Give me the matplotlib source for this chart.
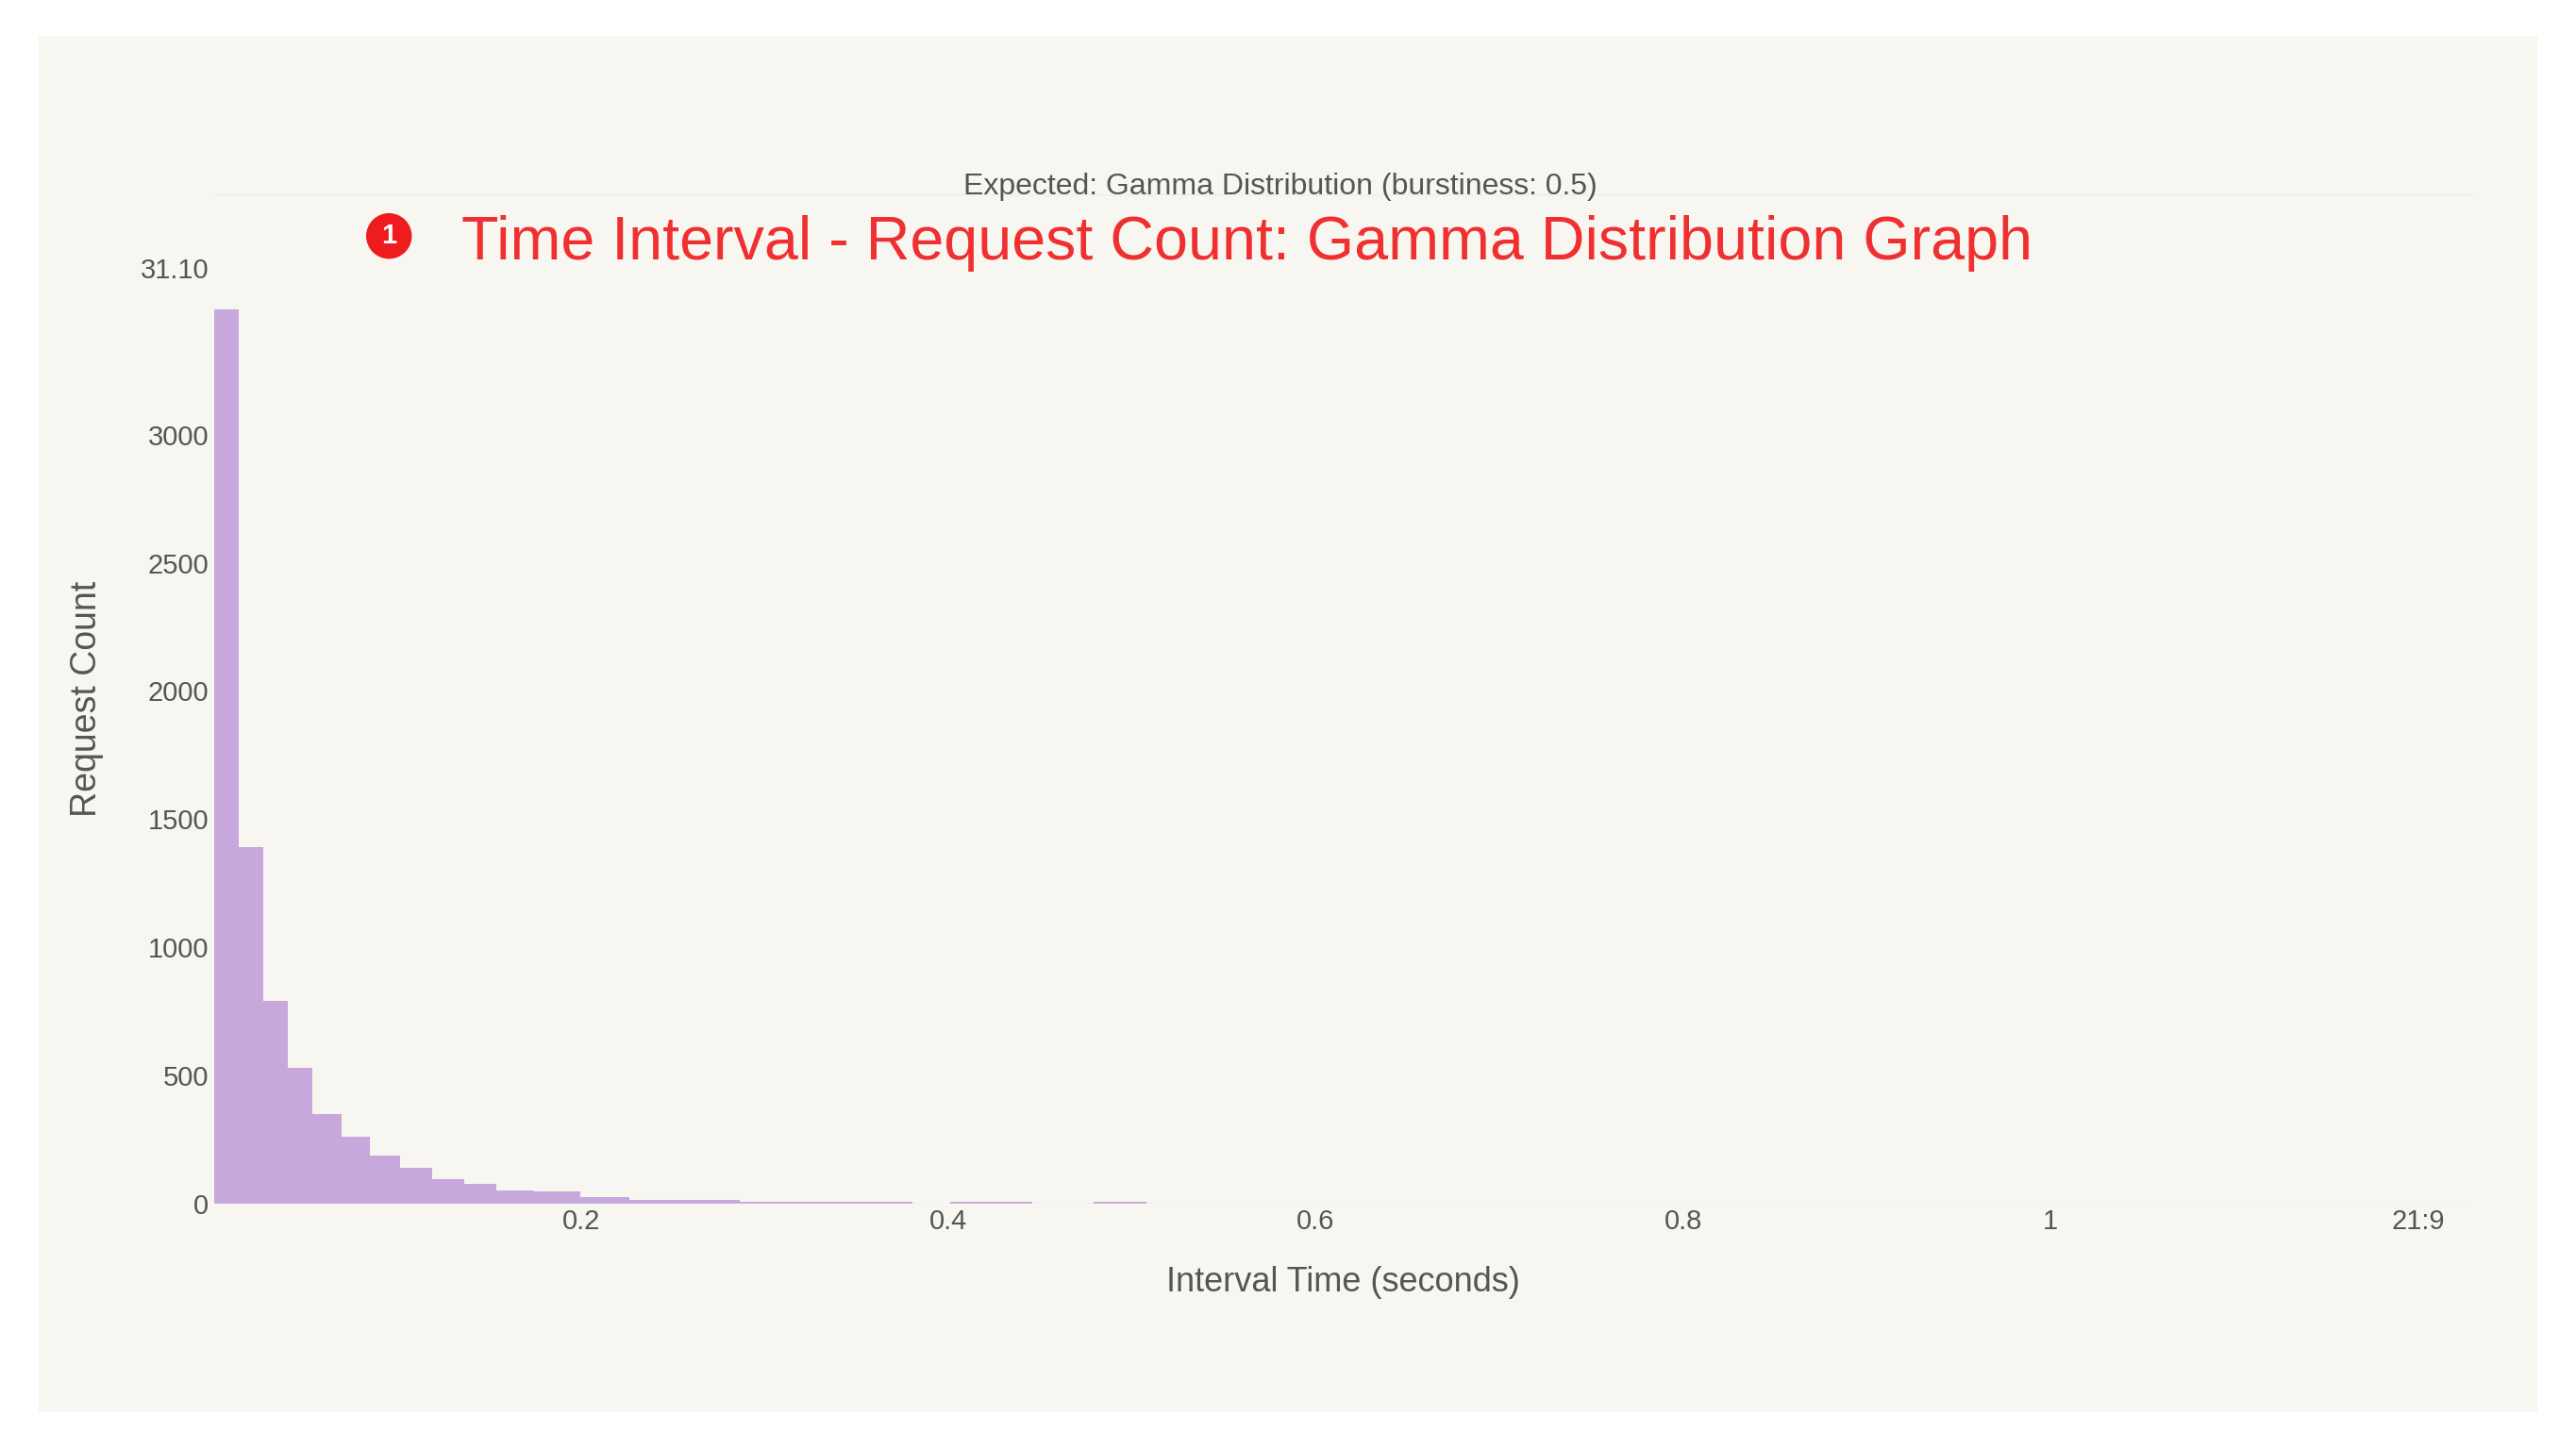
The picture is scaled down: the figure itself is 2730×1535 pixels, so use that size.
import matplotlib
matplotlib.use("Agg")
import matplotlib.pyplot as plt
import numpy as np

plt.rcParams['font.family'] = ['Liberation Sans', 'DejaVu Sans']

# bin edges (seconds) and request counts
bin_edges = [0.0, 0.0134, 0.0269, 0.0403, 0.0537, 0.0698, 0.0851, 0.1012, 0.1191,
             0.1361, 0.1540, 0.1746, 0.1997, 0.2265, 0.2865, 0.3805, 0.4010, 0.4458, 0.4790, 0.5076]
counts = [3490, 1390, 790, 530, 350, 260, 185, 140, 95, 75, 50, 45, 25, 12, 6, 0, 5, 0, 7]
yticks = [0, 500, 1000, 1500, 2000, 2500, 3000, 3650]
ytick_labels = ["0", "500", "1000", "1500", "2000", "2500", "3000", "31.10"]
xticks = [0.2, 0.4, 0.6, 0.8, 1.0, 1.2]
xtick_labels = ["0.2", "0.4", "0.6", "0.8", "1", "21:9"]

bg = "#f7f6f0"
fig = plt.figure(figsize=(27.3, 15.35), dpi=100, facecolor="white")
fig.patches.append(plt.Rectangle((0.015, 0.025), 0.97, 0.95, transform=fig.transFigure,
                                 facecolor=bg, edgecolor="none", zorder=-1))
ax = fig.add_axes([0.083, 0.169, 0.877, 0.697])
ax.set_facecolor(bg)
widths = np.diff(bin_edges)
ax.bar(bin_edges[:-1], counts, width=widths, align="edge", color="#c8a7dc", edgecolor="none")
ax.set_xlim(0, 1.23)
ax.set_ylim(0, 3940)
ax.set_xticks(xticks)
ax.set_xticklabels(xtick_labels)
ax.set_yticks(yticks)
ax.set_yticklabels(ytick_labels)
ax.tick_params(length=0, labelsize=21, colors="#555555", pad=4)
for s in ax.spines.values():
    s.set_visible(False)
ax.axhline(0, color="#e6e6e0", lw=1)
ax.axhline(3940, color="#ececea", lw=1)
ax.set_xlabel("Interval Time (seconds)", fontsize=26, color="#555555", labelpad=24)
ax.set_ylabel("Request Count", fontsize=27, color="#555555", labelpad=28)

fig.text(0.497, 0.871, "Expected: Gamma Distribution (burstiness: 0.5)", ha="center", va="center",
         fontsize=23, color="#555555")
fig.text(0.179, 0.832, "Time Interval - Request Count: Gamma Distribution Graph", ha="left",
         va="center", fontsize=46.5, color="#f03030")
fig.text(0.151, 0.837, "1", ha="center", va="center", fontsize=21, color="white", fontweight="bold",
         bbox=dict(boxstyle="circle,pad=0.35", facecolor="#ee1c1c", edgecolor="none"))
fig.savefig("out.png", dpi=100, facecolor="white")
